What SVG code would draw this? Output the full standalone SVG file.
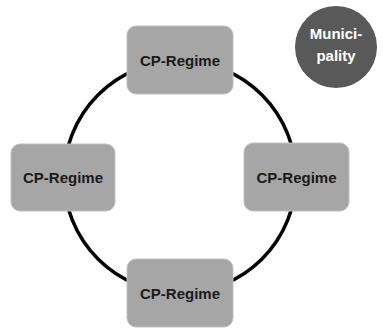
<svg xmlns="http://www.w3.org/2000/svg" width="383" height="334" viewBox="0 0 383 334">
<style>
.box{fill:#a6a6a6;stroke:#bfbfbf;stroke-width:1}
.lbl{font-family:"Liberation Sans",Arial,sans-serif;font-weight:bold;font-size:15px;fill:#1a1a1a;text-anchor:middle;dominant-baseline:central}
.mun{font-family:"Liberation Sans",Arial,sans-serif;font-weight:bold;font-size:15px;fill:#ffffff;text-anchor:middle}
</style>
<rect width="383" height="334" fill="#ffffff"/>
<g id="connectors">
<circle cx="180" cy="177" r="116" fill="none" stroke="#000" stroke-width="3.5"/>
</g>
<g id="top"><rect class="box" x="127" y="26" width="106" height="68" rx="9"/><text class="lbl" x="180" y="60">CP-Regime</text></g>
<g id="left"><rect class="box" x="11" y="144" width="104" height="67" rx="9"/><text class="lbl" x="63" y="177.5">CP-Regime</text></g>
<g id="right"><rect class="box" x="244" y="143" width="105" height="68" rx="9"/><text class="lbl" x="296.5" y="177">CP-Regime</text></g>
<g id="bottom"><rect class="box" x="127" y="259" width="106" height="68" rx="9"/><text class="lbl" x="180" y="293">CP-Regime</text></g>
<g id="municipality"><circle cx="336" cy="47" r="41" fill="#595959"/><text class="mun" x="336" y="39">Munici-</text><text class="mun" x="336" y="61">pality</text></g>
</svg>
